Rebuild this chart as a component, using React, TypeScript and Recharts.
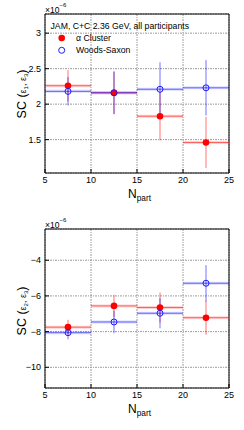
import {
  ComposedChart, Scatter, XAxis, YAxis, CartesianGrid,
  ErrorBar, ReferenceArea,
} from 'recharts';

// N_part bins: centre and half width
const NPART = [7.5, 12.5, 17.5, 22.5];
const NPART_HALF = [2.5, 2.5, 2.5, 2.5];

// SC(e1, e3) in units of 1e-6
const SC13_ALPHA = [2.26, 2.16, 1.83, 1.46];
const SC13_ALPHA_ERR = [0.22, 0.3, 0.34, 0.36];
const SC13_WS = [2.18, 2.16, 2.21, 2.23];
const SC13_WS_ERR = [0.2, 0.3, 0.38, 0.39];

// SC(e2, e3) in units of 1e-6
const SC23_ALPHA = [-7.75, -6.56, -6.65, -7.22];
const SC23_ALPHA_ERR = [0.41, 0.62, 0.84, 0.96];
const SC23_WS = [-8.06, -7.46, -6.97, -5.29];
const SC23_WS_ERR = [0.37, 0.63, 0.84, 1.02];

const X_TICKS = [5, 10, 15, 20, 25];
const SC13_TICKS = [1.5, 2, 2.5, 3];
const SC23_TICKS = [-10, -8, -6, -4];

const FONT = '"Liberation Sans", Arial, Helvetica, sans-serif';
const W = 244;
const H = 215;

function rows(y: number[], err: number[]) {
  return NPART.map((x, i) => ({ x, y: y[i], ex: NPART_HALF[i], band: NPART_HALF[i], ey: err[i] }));
}

const RedDot = (p: any) => <circle cx={p.cx} cy={p.cy} r={3.3} fill="#ff0000" />;
const BlueRing = (p: any) => (
  <circle cx={p.cx} cy={p.cy} r={3} fill="none" stroke="#1a1aff" strokeWidth={1} />
);

const minus = (v: number) => (v < 0 ? `\u2212${Math.abs(v)}` : String(v));

interface PanelProps {
  alpha: number[];
  alphaErr: number[];
  ws: number[];
  wsErr: number[];
  domain: [number, number];
  ticks: number[];
  sub: string;
  titleY: number;
  legend?: boolean;
}

function Panel({ alpha, alphaErr, ws, wsErr, domain, ticks, sub, titleY, legend }: PanelProps) {
  const tick = { fill: '#000', fontSize: 9, fontFamily: FONT };
  return (
    <div style={{ position: 'relative', width: W, height: H }}>
      <ComposedChart width={W} height={H} margin={{ top: 14, right: 15, bottom: 0, left: 0 }}>
        <CartesianGrid stroke="#9a9a9a" strokeDasharray="2 1 1 1" />
        <XAxis
          type="number" dataKey="x" domain={[5, 25]} ticks={X_TICKS} height={42}
          axisLine={false} stroke="#000" tickSize={-4} tickMargin={8} tick={tick}
          allowDataOverflow
        />
        <YAxis
          type="number" dataKey="y" domain={domain} ticks={ticks} width={45}
          axisLine={false} stroke="#000" tickSize={-4} tickMargin={8} tick={tick}
          tickFormatter={minus} allowDataOverflow
        />
        <ReferenceArea
          x1={5} x2={25} y1={domain[0]} y2={domain[1]}
          fill="none" stroke="#000" strokeWidth={1} fillOpacity={0} strokeOpacity={1}
        />
        <Scatter data={rows(alpha, alphaErr)} shape={RedDot} isAnimationActive={false}>
          <ErrorBar dataKey="band" direction="x" width={0} stroke="rgba(255,0,0,0.18)" strokeWidth={3} isAnimationActive={false} />
          <ErrorBar dataKey="ex" direction="x" width={0} stroke="rgba(255,0,0,0.55)" strokeWidth={1} isAnimationActive={false} />
          <ErrorBar dataKey="ey" direction="y" width={0} stroke="rgba(255,0,0,0.55)" strokeWidth={1} isAnimationActive={false} />
        </Scatter>
        <Scatter data={rows(ws, wsErr)} shape={BlueRing} isAnimationActive={false}>
          <ErrorBar dataKey="band" direction="x" width={0} stroke="rgba(0,0,255,0.15)" strokeWidth={3} isAnimationActive={false} />
          <ErrorBar dataKey="ex" direction="x" width={0} stroke="rgba(0,0,255,0.55)" strokeWidth={1} isAnimationActive={false} />
          <ErrorBar dataKey="ey" direction="y" width={0} stroke="rgba(0,0,255,0.55)" strokeWidth={1} isAnimationActive={false} />
        </Scatter>
      </ComposedChart>
      <svg
        width={W} height={H}
        style={{ position: 'absolute', left: 0, top: 0, pointerEvents: 'none' }}
        fontFamily={FONT}
      >
        <text x={45} y={13} fontSize={8.5}>
          ×10<tspan fontSize={6} dy={-6}>−6</tspan>
        </text>
        <text transform={`translate(26,${titleY}) rotate(-90)`} textAnchor="middle">
          <tspan fontSize={12.5}>SC (</tspan>
          <tspan fontSize={9}>ε</tspan>
          <tspan fontSize={6} dy={2}>{sub}</tspan>
          <tspan fontSize={9} dy={-2}>, ε</tspan>
          <tspan fontSize={6} dy={2}>3</tspan>
          <tspan fontSize={12.5} dy={-2}>)</tspan>
        </text>
        <text x={128} y={198} fontSize={12}>
          N<tspan fontSize={8.3} dy={3}>part</tspan>
        </text>
        {legend && (
          <g fontSize={8.7}>
            <text x={50.5} y={29}>JAM, C+C 2.36 GeV, all participants</text>
            <circle cx={61.7} cy={38} r={3.3} fill="#ff0000" />
            <text x={76} y={41}>α Cluster</text>
            <circle cx={61.7} cy={50.3} r={3} fill="none" stroke="#1a1aff" strokeWidth={1} />
            <text x={76} y={53.3}>Woods-Saxon</text>
          </g>
        )}
      </svg>
    </div>
  );
}

export default function App() {
  return (
    <div style={{ position: 'absolute', left: 0, top: 0, width: W, background: '#fff' }}>
      <Panel
        alpha={SC13_ALPHA} alphaErr={SC13_ALPHA_ERR} ws={SC13_WS} wsErr={SC13_WS_ERR}
        domain={[1.03, 3.27]} ticks={SC13_TICKS} sub="1" titleY={94} legend
      />
      <Panel
        alpha={SC23_ALPHA} alphaErr={SC23_ALPHA_ERR} ws={SC23_WS} wsErr={SC23_WS_ERR}
        domain={[-11.16, -2.25]} ticks={SC23_TICKS} sub="2" titleY={96}
      />
    </div>
  );
}
